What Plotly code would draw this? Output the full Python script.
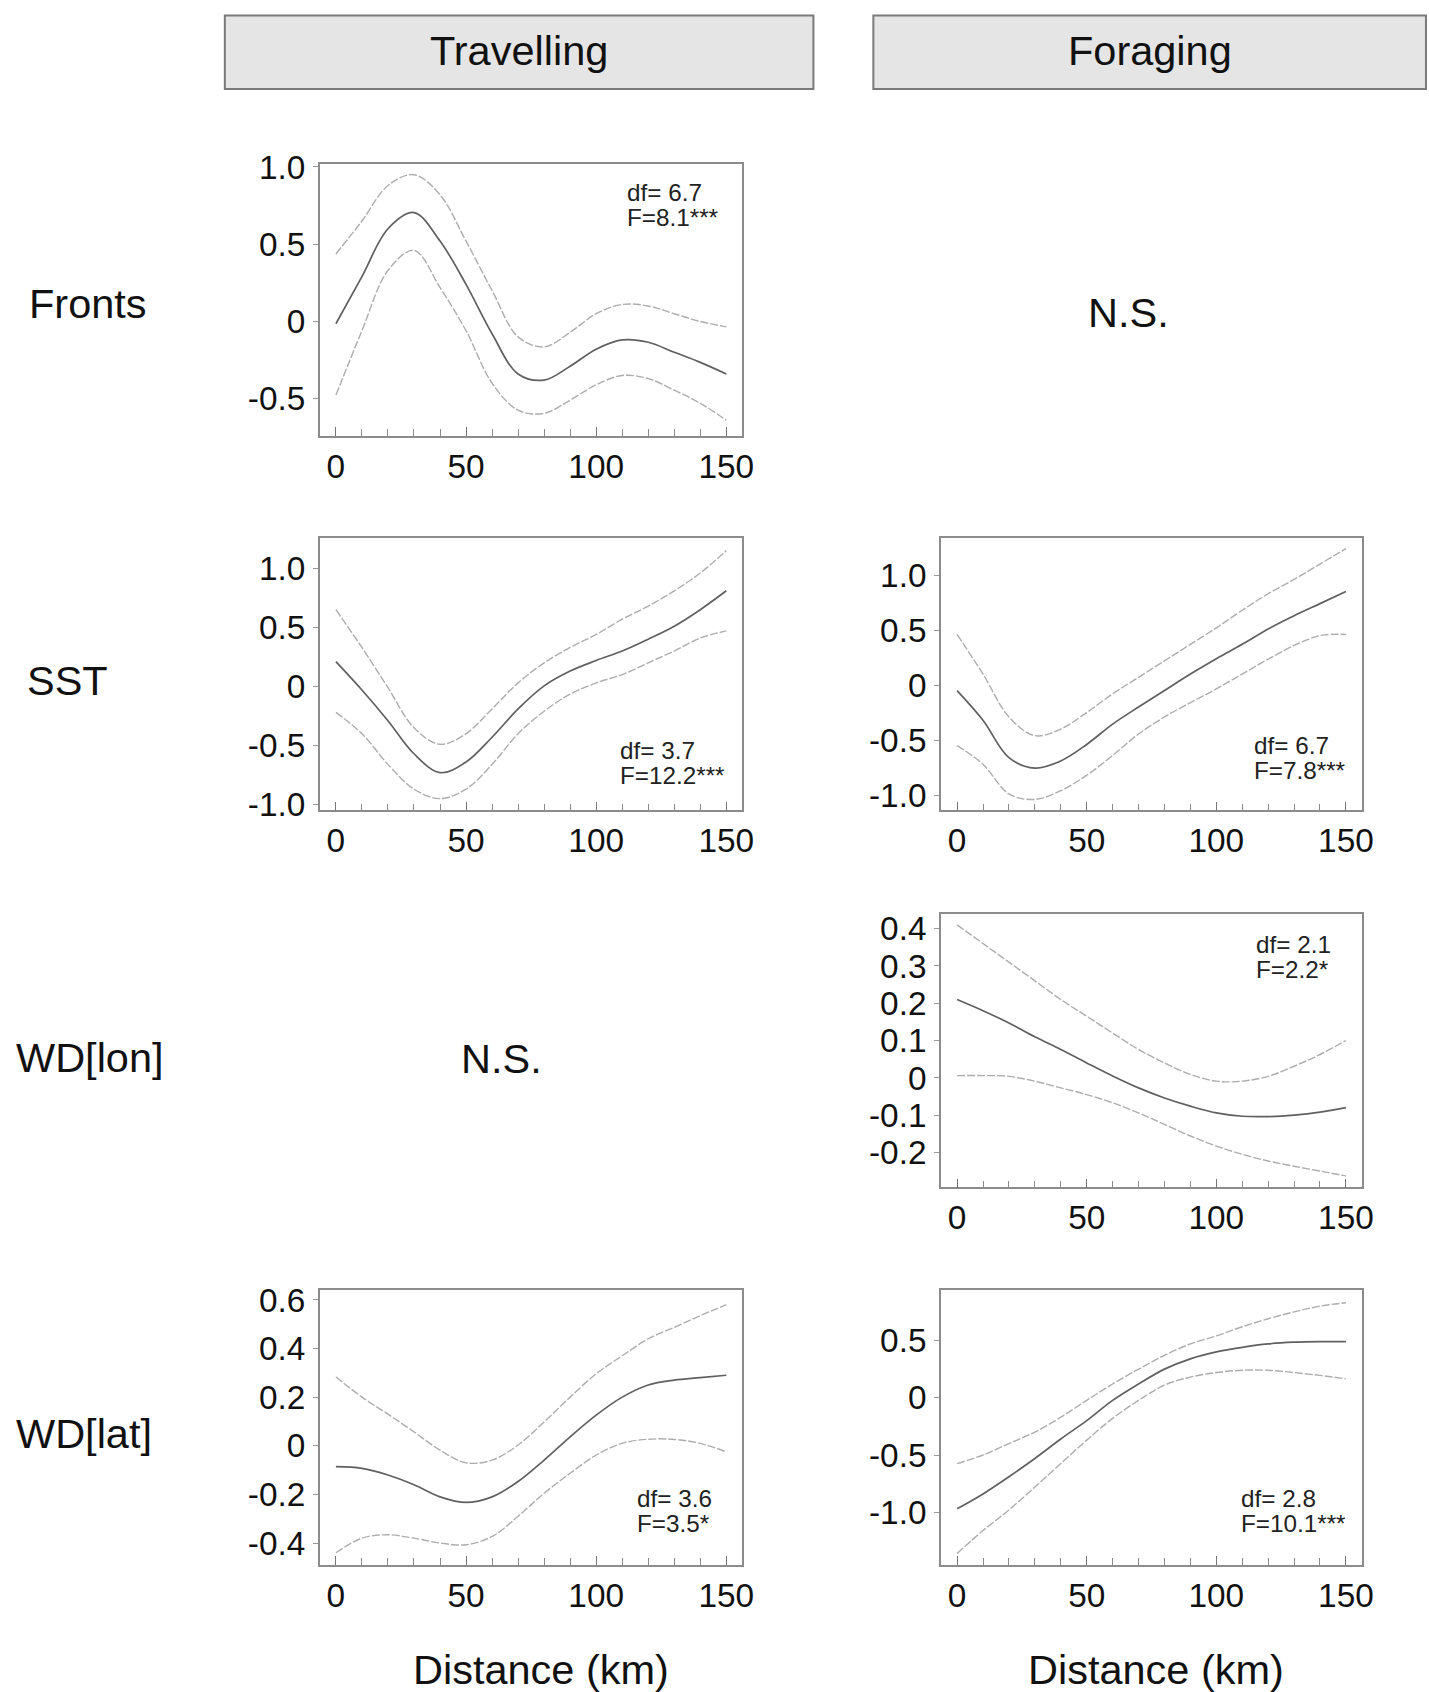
import plotly.graph_objects as go

# ---------------- data ----------------
distance_km = [0, 10, 20, 30, 40, 50, 60, 70, 80, 90, 100, 110, 120, 130, 140, 150]

fronts_trav_fit = [-0.015, 0.29, 0.60, 0.705, 0.52, 0.24, -0.08, -0.34, -0.38, -0.29, -0.18, -0.12, -0.135, -0.20, -0.265, -0.34]
fronts_trav_up = [0.437, 0.65, 0.88, 0.95, 0.82, 0.52, 0.20, -0.10, -0.165, -0.07, 0.05, 0.11, 0.10, 0.05, 0.0, -0.035]
fronts_trav_lo = [-0.477, -0.06, 0.33, 0.46, 0.22, -0.06, -0.40, -0.575, -0.595, -0.51, -0.41, -0.35, -0.37, -0.445, -0.53, -0.64]

sst_trav_fit = [0.21, -0.03, -0.29, -0.57, -0.73, -0.64, -0.43, -0.19, 0.005, 0.13, 0.22, 0.30, 0.40, 0.51, 0.65, 0.81]
sst_trav_up = [0.65, 0.33, -0.01, -0.35, -0.49, -0.40, -0.19, 0.03, 0.20, 0.33, 0.44, 0.57, 0.68, 0.81, 0.96, 1.15]
sst_trav_lo = [-0.22, -0.40, -0.66, -0.87, -0.95, -0.87, -0.66, -0.40, -0.21, -0.065, 0.03, 0.10, 0.20, 0.30, 0.41, 0.47]

sst_for_fit = [-0.05, -0.32, -0.66, -0.755, -0.69, -0.54, -0.355, -0.20, -0.05, 0.10, 0.24, 0.37, 0.51, 0.63, 0.74, 0.85]
sst_for_up = [0.46, 0.10, -0.29, -0.46, -0.40, -0.25, -0.08, 0.07, 0.22, 0.37, 0.52, 0.68, 0.83, 0.96, 1.10, 1.24]
sst_for_lo = [-0.55, -0.72, -0.99, -1.04, -0.96, -0.82, -0.64, -0.445, -0.29, -0.16, -0.035, 0.10, 0.235, 0.36, 0.45, 0.46]

wdlon_for_fit = [0.21, 0.18, 0.147, 0.11, 0.076, 0.04, 0.005, -0.027, -0.054, -0.076, -0.094, -0.103, -0.104, -0.10, -0.092, -0.08]
wdlon_for_up = [0.41, 0.36, 0.31, 0.26, 0.21, 0.165, 0.12, 0.076, 0.04, 0.009, -0.009, -0.009, 0.004, 0.031, 0.0625, 0.10]
wdlon_for_lo = [0.006, 0.006, 0.004, -0.009, -0.027, -0.045, -0.067, -0.094, -0.125, -0.156, -0.183, -0.205, -0.223, -0.237, -0.25, -0.263]

wdlat_trav_fit = [-0.086, -0.093, -0.12, -0.16, -0.21, -0.233, -0.21, -0.147, -0.059, 0.037, 0.126, 0.20, 0.25, 0.27, 0.28, 0.29]
wdlat_trav_up = [0.283, 0.20, 0.13, 0.057, -0.018, -0.07, -0.059, 0.003, 0.098, 0.20, 0.296, 0.37, 0.44, 0.487, 0.535, 0.58]
wdlat_trav_lo = [-0.44, -0.38, -0.366, -0.38, -0.40, -0.407, -0.373, -0.29, -0.195, -0.113, -0.038, 0.01, 0.027, 0.026, 0.01, -0.025]

wdlat_for_fit = [-0.97, -0.84, -0.69, -0.53, -0.36, -0.20, -0.023, 0.12, 0.25, 0.34, 0.40, 0.44, 0.47, 0.485, 0.49, 0.49]
wdlat_for_up = [-0.575, -0.50, -0.40, -0.30, -0.17, -0.023, 0.12, 0.25, 0.37, 0.47, 0.54, 0.62, 0.69, 0.75, 0.80, 0.83]
wdlat_for_lo = [-1.36, -1.16, -0.98, -0.78, -0.575, -0.37, -0.18, -0.023, 0.11, 0.18, 0.22, 0.24, 0.24, 0.22, 0.195, 0.165]

column_titles = ["Travelling", "Foraging"]
row_titles = ["Fronts", "SST", "WD[lon]", "WD[lat]"]
stats_df = ["df= 6.7", "df= 3.7", "df= 6.7", "df= 2.1", "df= 3.6", "df= 2.8"]
stats_F = ["F=8.1***", "F=12.2***", "F=7.8***", "F=2.2*", "F=3.5*", "F=10.1***"]
ns_label = "N.S."
x_title = "Distance (km)"

# ---------------- layout helpers ----------------
PW, PH = 1440, 1720          # figure size in the page
# measured picture mapping: pic_x = 0.9924*page_x ; pic_y = 14 + 0.9844*page_y
SX, SY, OY = 0.9924, 0.9844, 14.0
FS = 1.012
FONT = "Liberation Sans, Arial, Helvetica, sans-serif"

def px_x(p):
    return (p / SX) / PW

def px_y(p):
    return 1 - ((p - OY) / SY) / PH

col_dom = [(320, 743), (941.7, 1363)]
row_dom = [(163, 435), (537, 810), (913.3, 1187.3), (1290, 1565)]

panels = [
    (0, 0, fronts_trav_fit, fronts_trav_up, fronts_trav_lo, [-0.74, 1.02], [-0.5, 0, 0.5, 1.0], 0, (625, 192)),
    (1, 0, sst_trav_fit, sst_trav_up, sst_trav_lo, [-1.05, 1.26], [-1.0, -0.5, 0, 0.5, 1.0], 1, (618, 750)),
    (1, 1, sst_for_fit, sst_for_up, sst_for_lo, [-1.14, 1.34], [-1.0, -0.5, 0, 0.5, 1.0], 2, (1253, 745)),
    (2, 1, wdlon_for_fit, wdlon_for_up, wdlon_for_lo, [-0.294, 0.44], [-0.2, -0.1, 0, 0.1, 0.2, 0.3, 0.4], 3, (1255, 944)),
    (3, 0, wdlat_trav_fit, wdlat_trav_up, wdlat_trav_lo, [-0.49, 0.64], [-0.4, -0.2, 0, 0.2, 0.4, 0.6], 4, (635, 1499)),
    (3, 1, wdlat_for_fit, wdlat_for_up, wdlat_for_lo, [-1.46, 0.94], [-1.0, -0.5, 0, 0.5], 5, (1240, 1499)),
]

def fmt(v):
    if abs(v) < 1e-9:
        return "0"
    return f"{v:.1f}"

fig = go.Figure()
layout = dict(
    width=PW, height=PH, margin=dict(l=0, r=0, t=0, b=0),
    paper_bgcolor="white", plot_bgcolor="white", showlegend=False,
    font=dict(family=FONT, color="#111111"),
)
annotations = []
shapes = []

for i, (r, c, fit, up, lo, yr, yt, si, spos) in enumerate(panels):
    n = "" if i == 0 else str(i + 1)
    xa, ya = "x" + n, "y" + n
    for ys, col, wd, dash in [(up, "#adadad", 1.4, "8px,2px"), (lo, "#adadad", 1.4, "8px,2px"), (fit, "#606060", 1.7, "solid")]:
        fig.add_trace(go.Scatter(
            x=distance_km, y=ys, mode="lines", xaxis=xa, yaxis=ya,
            line=dict(color=col, width=wd, shape="spline", smoothing=1.0, dash=dash),
            hoverinfo="skip"))
    x0, x1 = col_dom[c]
    y0, y1 = row_dom[r]
    layout["xaxis" + n] = dict(
        domain=[px_x(x0), px_x(x1)], anchor=ya, range=[-6.2, 156.2],
        tickmode="linear", tick0=0, dtick=50,
        ticks="inside", ticklen=9, tickwidth=1.3, tickcolor="#777777",
        minor=dict(ticks="inside", tick0=0, dtick=10, ticklen=7, tickwidth=1.2, tickcolor="#8a8a8a"),
        showline=True, mirror=True, linecolor="#8c8c8c", linewidth=1.6,
        showgrid=False, zeroline=False,
        tickfont=dict(size=33 * FS, color="#111111", family=FONT), ticklabelstandoff=0,
    )
    layout["yaxis" + n] = dict(
        domain=[px_y(y1), px_y(y0)], anchor=xa, range=yr,
        tickmode="array", tickvals=yt, ticktext=[fmt(v) for v in yt],
        ticks="outside", ticklen=5, tickwidth=1.2, tickcolor="#999999",
        showline=True, mirror=True, linecolor="#8c8c8c", linewidth=1.6,
        showgrid=False, zeroline=False,
        tickfont=dict(size=33 * FS, color="#111111", family=FONT), ticklabelstandoff=1,
    )
    sx, sy = spos
    annotations.append(dict(x=px_x(sx), y=px_y(sy), xref="paper", yref="paper", text=stats_df[si],
                            showarrow=False, xanchor="left", yanchor="middle",
                            font=dict(size=24 * FS, color="#222222", family=FONT)))
    annotations.append(dict(x=px_x(sx), y=px_y(sy + 25), xref="paper", yref="paper", text=stats_F[si],
                            showarrow=False, xanchor="left", yanchor="middle",
                            font=dict(size=24 * FS, color="#222222", family=FONT)))

# strip headers
for (bx0, bx1), title in zip([(225, 814), (874, 1427)], column_titles):
    shapes.append(dict(type="rect", xref="paper", yref="paper",
                       x0=px_x(bx0), x1=px_x(bx1), y0=px_y(88), y1=px_y(14.5),
                       fillcolor="#e5e5e5", line=dict(color="#7a7a7a", width=2), layer="below"))
    annotations.append(dict(x=px_x((bx0 + bx1) / 2), y=px_y(50), xref="paper", yref="paper", text=title,
                            showarrow=False, xanchor="center", yanchor="middle",
                            font=dict(size=41 * FS, color="#111111", family=FONT)))

for title, (lx, ly) in zip(row_titles, [(27, 303), (25, 680), (14, 1057), (14, 1433)]):
    annotations.append(dict(x=px_x(lx), y=px_y(ly), xref="paper", yref="paper", text=title,
                            showarrow=False, xanchor="left", yanchor="middle",
                            font=dict(size=41 * FS, color="#111111", family=FONT)))

for (nx, ny) in [(1129, 312), (502, 1058)]:
    annotations.append(dict(x=px_x(nx), y=px_y(ny), xref="paper", yref="paper", text=ns_label,
                            showarrow=False, xanchor="center", yanchor="middle",
                            font=dict(size=41 * FS, color="#111111", family=FONT)))

for xc in [541, 1157]:
    annotations.append(dict(x=px_x(xc), y=px_y(1670), xref="paper", yref="paper", text=x_title,
                            showarrow=False, xanchor="center", yanchor="middle",
                            font=dict(size=41 * FS, color="#111111", family=FONT)))

layout["annotations"] = annotations
layout["shapes"] = shapes
fig.update_layout(**layout)

pin_js = ("document.body.style.margin='0';document.body.style.overflow='hidden';"
          "var d=document.getElementById('{plot_id}');"
          "d.style.position='fixed';d.style.top='0px';d.style.left='0px';")
fig.write_html("out.html", config={"displayModeBar": False}, post_script=pin_js)
